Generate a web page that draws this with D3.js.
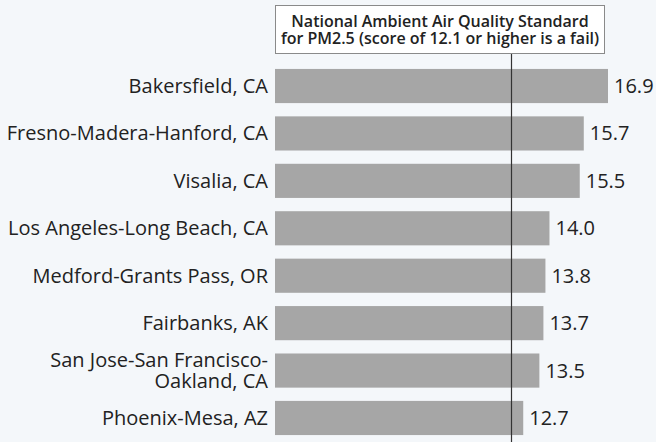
<!DOCTYPE html>
<html>
<head>
<meta charset="utf-8">
<script src="https://cdn.jsdelivr.net/npm/d3@7"></script>
<style>
  html, body { margin: 0; padding: 0; background: #f4f7fa; }
  svg { display: block; }
  text { font-family: "Open Sans", sans-serif; }
</style>
</head>
<body>
<svg id="chart" width="656" height="442"></svg>
<script>
const categories = [
  ["Bakersfield, CA"],
  ["Fresno-Madera-Hanford, CA"],
  ["Visalia, CA"],
  ["Los Angeles-Long Beach, CA"],
  ["Medford-Grants Pass, OR"],
  ["Fairbanks, AK"],
  ["San Jose-San Francisco-", "Oakland, CA"],
  ["Phoenix-Mesa, AZ"]
];
const values = [16.9, 15.7, 15.5, 14.0, 13.8, 13.7, 13.5, 12.7];
const valueLabels = ["16.9", "15.7", "15.5", "14.0", "13.8", "13.7", "13.5", "12.7"];
const standard = 12.1;
const standardLabel = ["National Ambient Air Quality Standard", "for PM2.5 (score of 12.1 or higher is a fail)"];

const W = 656, H = 442;
const svg = d3.select("#chart");
svg.append("rect").attr("width", W).attr("height", H).attr("fill", "#f4f7fa");

const x = d3.scaleLinear().domain([0.4, 16.9]).range([275, 608]);
const y = d3.scaleBand().domain(d3.range(values.length)).range([62.3, 441.7]).paddingInner(0.28).paddingOuter(0.14);

// bars
svg.selectAll("rect.bar").data(values).join("rect")
  .attr("class", "bar")
  .attr("x", x.range()[0])
  .attr("y", (d, i) => y(i))
  .attr("width", d => x(d) - x.range()[0])
  .attr("height", y.bandwidth())
  .attr("fill", "#a6a6a6");

// value labels
svg.selectAll("text.val").data(values).join("text")
  .attr("class", "val")
  .attr("x", d => x(d) + 6)
  .attr("y", (d, i) => y(i) + y.bandwidth() / 2)
  .attr("dy", "0.35em")
  .attr("font-size", 20)
  .attr("fill", "#222")
  .text((d, i) => valueLabels[i]);

// category labels
const cat = svg.selectAll("text.cat").data(categories).join("text")
  .attr("class", "cat")
  .attr("text-anchor", "end")
  .attr("font-size", 20)
  .attr("fill", "#222");
cat.each(function(lines, i) {
  const t = d3.select(this);
  const cy = y(i) + y.bandwidth() / 2;
  const lh = 21;
  lines.forEach((ln, j) => {
    t.append("tspan")
      .attr("x", 268)
      .attr("y", cy + (j - (lines.length - 1) / 2) * lh)
      .attr("dy", "0.35em")
      .text(ln);
  });
});

// standard line
const sx = Math.round(x(standard)) + 0.5;
svg.append("line")
  .attr("x1", sx).attr("x2", sx)
  .attr("y1", 54).attr("y2", H)
  .attr("stroke", "#333").attr("stroke-width", 1.2);

// label box
svg.append("rect")
  .attr("x", 275.5).attr("y", 5.5)
  .attr("width", 329).attr("height", 48)
  .attr("fill", "#ffffff").attr("stroke", "#8a8a8a").attr("stroke-width", 1);

const lt = svg.append("text")
  .attr("text-anchor", "middle")
  .attr("font-size", 16)
  .attr("font-weight", 600)
  .attr("fill", "#222");
standardLabel.forEach((ln, j) => {
  lt.append("tspan").attr("x", 440).attr("y", 27 + j * 17).text(ln);
});
</script>
</body>
</html>
